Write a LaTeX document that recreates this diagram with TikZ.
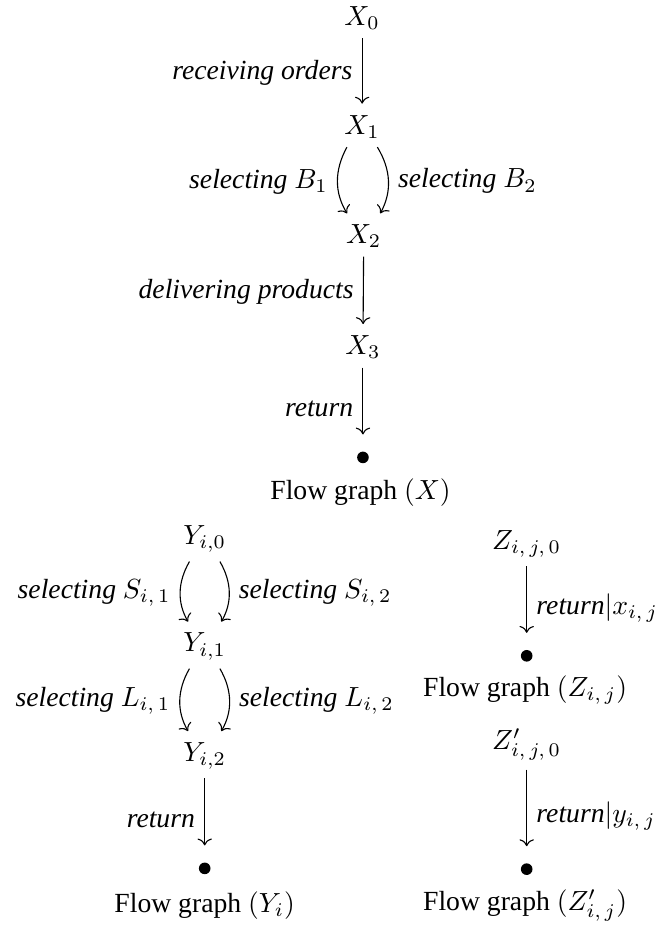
\documentclass[tikz,border=0pt]{standalone}
\usepackage{fontspec}
\setmainfont{Liberation Serif}
\usepackage{amsmath}
\usepackage{tikz}
\usetikzlibrary{arrows.meta, positioning, calc}

\begin{document}
\begin{tikzpicture}[
    state/.style={inner sep=3pt},
    endpt/.style={circle, fill, inner sep=0, minimum size=4.2pt},
    lbl/.style={font=\itshape},
    flow/.style={->, shorten >=1pt},
    toend/.style={->, shorten >=6pt},
    capt/.style={align=center},
]
    \useasboundingbox (0, 0) rectangle (8.52, 11.8);

    % Flow graph X
    \node[state] (x0) at (4.60, 11.57) {$X_0$};
    \node[state] (x1) at (4.60, 10.19) {$X_1$};
    \node[state] (x2) at (4.62, 8.80) {$X_2$};
    \node[state] (x3) at (4.61, 7.39) {$X_3$};
    \node[endpt] (xend) at (4.61, 5.99) {};
    \node[capt] (xcap) at (4.58, 5.54) {Flow graph $(X)$};

    \draw[flow] (x0) -- node[lbl, left] {receiving orders} (x1);
    \draw[flow] ([xshift=-5.5pt]x1.south) to[bend right=30] node[lbl, left] {selecting $B_1$} ([xshift=-5.5pt]x2.north);
    \draw[flow] ([xshift=5.5pt]x1.south) to[bend left=30] node[lbl, right] {selecting $B_2$} ([xshift=5.5pt]x2.north);
    \draw[flow] (x2) -- node[lbl, left] {delivering products} (x3);
    \draw[toend] (x3) -- node[lbl, left] {return} (xend);

    % Flow graph Y_i
    \node[state] (y0) at (2.60, 4.95) {$Y_{i,0}$};
    \node[state] (y1) at (2.60, 3.59) {$Y_{i,1}$};
    \node[state] (y2) at (2.60, 2.20) {$Y_{i,2}$};
    \node[endpt] (yend) at (2.60, 0.77) {};
    \node[capt] (ycap) at (2.60, 0.30) {Flow graph $(Y_i)$};

    \draw[flow] ([xshift=-5.5pt]y0.south) to[bend right=30] node[lbl, left] {selecting $S_{i,\,1}$} ([xshift=-5.5pt]y1.north);
    \draw[flow] ([xshift=5.5pt]y0.south) to[bend left=30] node[lbl, right] {selecting $S_{i,\,2}$} ([xshift=5.5pt]y1.north);
    \draw[flow] ([xshift=-5.5pt]y1.south) to[bend right=30] node[lbl, left] {selecting $L_{i,\,1}$} ([xshift=-5.5pt]y2.north);
    \draw[flow] ([xshift=5.5pt]y1.south) to[bend left=30] node[lbl, right] {selecting $L_{i,\,2}$} ([xshift=5.5pt]y2.north);
    \draw[toend] (y2) -- node[lbl, left] {return} (yend);

    % Flow graph Z_{i,j}
    \node[state] (z0) at (6.69, 4.89) {$Z_{i,\,j,\,0}$};
    \node[endpt] (zend) at (6.69, 3.47) {};
    \node[capt] (zcap) at (6.67, 3.04) {Flow graph $(Z_{i,\,j})$};
    \draw[toend] (z0) -- node[right] {\textit{return}$|x_{i,\,j}$} (zend);

    % Flow graph Z'_{i,j}
    \node[state] (w0) at (6.69, 2.34) {$Z'_{i,\,j,\,0}$};
    \node[endpt] (wend) at (6.69, 0.76) {};
    \node[capt] (wcap) at (6.67, 0.30) {Flow graph $(Z'_{i,\,j})$};
    \draw[toend] (w0) -- node[right] {\textit{return}$|y_{i,\,j}$} (wend);
\end{tikzpicture}
\end{document}
